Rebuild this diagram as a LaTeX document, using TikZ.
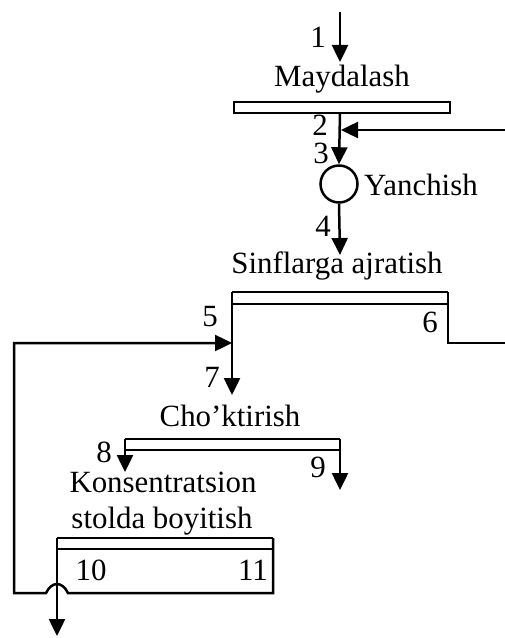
\documentclass[tikz,border=0pt]{standalone}
\usepackage{fontspec}
\setmainfont{Liberation Serif}
\usetikzlibrary{arrows.meta}
\begin{document}
\begin{tikzpicture}[x=1bp,y=-1bp,
  every node/.style={font=\fontsize{31}{31}\selectfont, inner sep=0pt, anchor=base, text depth=0pt},
  ln/.style={line width=2.5bp, draw=black},
  arr/.style={ln, -{Triangle[length=17bp,width=16bp]}},
  digit/.style={text height=20bp}]
\useasboundingbox (0,0) rectangle (505,638);
% coordinates
\coordinate (in1) at (340,12);
\coordinate (in1e) at (340,62);
\coordinate (m2) at (340,113);
\coordinate (ret6) at (505,130);
\coordinate (j2) at (341,130);
\node[circle, ln, minimum size=37bp, inner sep=0pt, anchor=center] (yan) at (339,184) {};
\coordinate (s4) at (340,255);
\coordinate (sL) at (232,292);
\coordinate (sR) at (448,292);
\coordinate (sLi) at (232,304);
\coordinate (sRi) at (448,304);
\coordinate (s6) at (448,343);
\coordinate (s6e) at (505,343);
\coordinate (s5) at (232,343);
\coordinate (s7) at (232,395);
\coordinate (cL) at (125,439);
\coordinate (cR) at (340,439);
\coordinate (cLi) at (125,450);
\coordinate (cRi) at (340,450);
\coordinate (c8) at (125,472);
\coordinate (c9) at (340,490);
\coordinate (kL) at (57,538);
\coordinate (kR) at (273,538);
\coordinate (kLi) at (57,549);
\coordinate (kRi) at (273,549);
\coordinate (kRb) at (273,593);
\coordinate (hopA) at (68,593);
\coordinate (hopB) at (46,593);
\coordinate (rb) at (14,593);
\coordinate (rt) at (14,343);
\coordinate (out) at (57,636);
% texts
\node[digit] (t1) at (318,48) {1};
\node (tM) at (342,87) {Maydalash};
\node[digit] (t2) at (320,136) {2};
\node[digit] (t3) at (321,164) {3};
\node[anchor=base west] (tY) at (364,195) {Yanchish};
\node[digit] (t4) at (323,236) {4};
\node (tS) at (337,273) {Sinflarga ajratish};
\node[digit] (t5) at (210,326) {5};
\node[digit] (t6) at (430,332) {6};
\node[digit] (t7) at (212,387) {7};
\node (tC) at (230,426) {Cho’ktirish};
\node[digit] (t8) at (104,462) {8};
\node[digit] (t9) at (318,477) {9};
\node (tK1) at (163,492) {Konsentratsion};
\node (tK2) at (162,528) {stolda boyitish};
\node[digit] (t10) at (91,580) {10};
\node[digit] (t11) at (253,580) {11};
% Maydalash bar
\draw[ln] (234,102) rectangle (450,113);
% flows
\draw[arr] (in1) -- (in1e);
\draw[arr] (m2) -- (yan.north);
\draw[arr] (ret6) -- (j2);
\draw[arr] (yan.south) -- (s4);
% Sinflarga ajratish
\draw[ln] (sR) -- (sL);
\draw[ln] (sRi) -- (sLi);
\draw[arr] (sL) -- (s7);
\draw[ln] (sR) -- (s6) -- (s6e);
% Cho'ktirish
\draw[ln] (cR) -- (cL);
\draw[ln] (cRi) -- (cLi);
\draw[arr] (cL) -- (c8);
\draw[arr] (cR) -- (c9);
% Konsentratsion stol
\draw[ln] (kR) -- (kL);
\draw[ln] (kRi) -- (kLi);
\draw[arr] (kL) -- (out);
\draw[arr] (kR) -- (kRb) -- (hopA) .. controls (62,581) and (52,581) .. (hopB) -- (rb) -- (rt) -- (s5);
\end{tikzpicture}
\end{document}
